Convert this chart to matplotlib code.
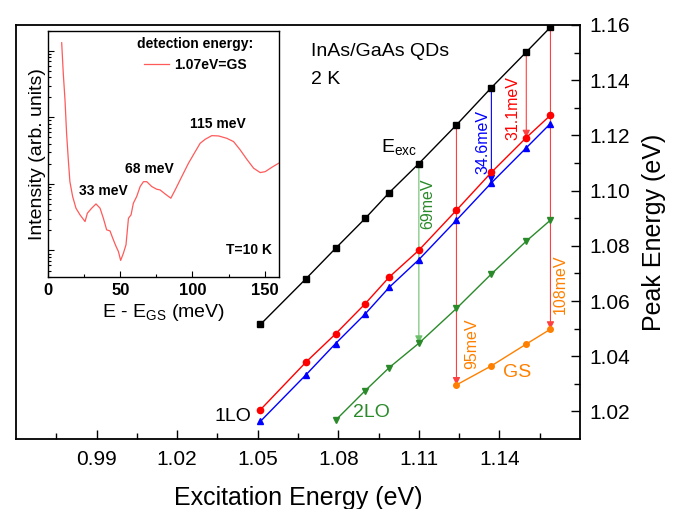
import numpy as np
import matplotlib
matplotlib.use('Agg')
import matplotlib.pyplot as plt
from matplotlib.ticker import MultipleLocator, FixedLocator, FormatStrFormatter, NullFormatter, LogLocator

plt.rcParams['font.family'] = ['Liberation Sans', 'DejaVu Sans']
plt.rcParams['mathtext.fontset'] = 'custom'
plt.rcParams['mathtext.rm'] = 'Liberation Sans'
plt.rcParams['mathtext.it'] = 'Liberation Sans:italic'

# excitation energies (eV) and peak positions (eV)
exc = [1.051, 1.068, 1.079, 1.090, 1.099, 1.110, 1.124, 1.137, 1.150, 1.159]
e_exc = [1.0515, 1.0681, 1.0791, 1.0899, 1.0993, 1.1098, 1.1238, 1.1373, 1.1502, 1.1592]
lo1_red = [1.0206, 1.0379, 1.0481, 1.0590, 1.0687, 1.0784, 1.0929, 1.1066, 1.1192, 1.1273]
lo1_blue = [1.0164, 1.0333, 1.0446, 1.0553, 1.0650, 1.0750, 1.0893, 1.1028, 1.1155, 1.1243]
lo2 = [1.0168, 1.0275, 1.0359, 1.0447, 1.0573, 1.0698, 1.0817, 1.0893]
gs = [1.0296, 1.0365, 1.0444, 1.0498]
exc_lo2 = exc[2:]
exc_gs = exc[6:]

# inset spectrum, detection at GS (1.07 eV)
ins_e = [9.3, 10.4, 11.6, 12.7, 13.9, 15.0, 16.9, 19.2, 22.0, 25.5, 27.1, 30.1, 33.1, 35.9,
         38.2, 40.5, 42.8, 44.7, 47.0, 48.6, 50.2, 52.1, 53.9, 55.6, 57.4, 59.0, 61.3, 63.7,
         66.0, 68.3, 71.8, 75.2, 77.5, 81.0, 85.0, 88.0, 92.6, 97.2, 101.9, 105.3, 108.8,
         113.4, 118.1, 123.8, 128.5, 133.1, 137.7, 142.4, 147.0, 150.5, 155.1, 159.7]
ins_i = [1318, 457, 182, 57.5, 22.9, 10.8, 6.46, 4.32, 3.43, 2.72, 3.63, 4.32, 5.01, 4.32,
         3.05, 2.04, 1.97, 1.53, 1.15, 0.97, 0.71, 0.91, 1.22, 3.05, 3.43, 5.13, 6.46, 9.12,
         10.8, 10.8, 9.12, 8.32, 8.13, 7.08, 6.10, 8.13, 12.9, 20.4, 30.5, 40.7, 46.8,
         53.1, 52.5, 48.4, 43.2, 32.4, 23.4, 17.2, 14.8, 15.3, 17.8, 20.4]

red = '#ff0000'
blue = '#0000ff'
green = '#2a8a2a'
orange = '#ff8000'

fig = plt.figure(figsize=(6.79, 5.09), dpi=100)
ax = fig.add_axes([0.0236, 0.1375, 0.8306, 0.8134])

def arrow(x, y0, y1, c):
    ax.annotate('', xy=(x, y1), xytext=(x, y0),
                arrowprops=dict(arrowstyle='-|>', color=c, lw=0.8, shrinkA=0, shrinkB=0,
                                mutation_scale=11), zorder=2)

arrow(exc[5], e_exc[5], lo2[3], '#6cc06c')
arrow(exc[6], e_exc[6], gs[0], '#ff4040')
arrow(exc[7], e_exc[7], lo1_blue[7], blue)
arrow(exc[8], e_exc[8], lo1_red[8], '#ff4040')
arrow(exc[9], e_exc[9], gs[3], '#ff4040')

ax.plot(exc, e_exc, '-s', color='black', lw=1.0, ms=4, zorder=3)
ax.plot(exc, lo1_red, '-o', color=red, lw=1.0, ms=4.5, zorder=3)
ax.plot(exc, lo1_blue, '-^', color=blue, lw=1.0, ms=4.5, zorder=3)
ax.plot(exc_lo2, lo2, '-v', color=green, lw=1.0, ms=4, zorder=3)
ax.plot(exc_gs, gs, '-o', color=orange, lw=1.0, ms=4, zorder=3)

ax.set_xlim(0.96, 1.17)
ax.set_ylim(1.010, 1.160)
ax.xaxis.set_major_locator(FixedLocator([0.99, 1.02, 1.05, 1.08, 1.11, 1.14]))
ax.xaxis.set_minor_locator(FixedLocator([0.975, 1.005, 1.035, 1.065, 1.095, 1.125, 1.155]))
ax.yaxis.set_major_locator(FixedLocator([1.02, 1.04, 1.06, 1.08, 1.10, 1.12, 1.14, 1.16]))
ax.yaxis.set_minor_locator(FixedLocator([1.03, 1.05, 1.07, 1.09, 1.11, 1.13, 1.15]))
ax.xaxis.set_major_formatter(FormatStrFormatter('%.2f'))
ax.yaxis.set_major_formatter(FormatStrFormatter('%.2f'))
ax.yaxis.tick_right()
ax.yaxis.set_label_position('right')
ax.tick_params(which='both', direction='in', labelsize=15, width=1.0)
ax.tick_params(which='major', length=6.5)
ax.tick_params(which='minor', length=4)
ax.tick_params(axis='x', pad=8)
ax.tick_params(axis='y', pad=7)
for s in ax.spines.values():
    s.set_linewidth(1.3)
ax.set_xlabel('Excitation Energy (eV)', fontsize=18, labelpad=12)
ax.set_ylabel('Peak Energy (eV)', fontsize=18, labelpad=8)

ax.text(1.0699, 1.1504, 'InAs/GaAs QDs', fontsize=14, ha='left', va='center')
ax.text(1.0699, 1.1403, '2 K', fontsize=14, ha='left', va='center')
ax.text(1.0958, 1.1139, r'E$_{\mathrm{exc}}$', fontsize=14, ha='left', va='baseline')
ax.text(1.0409, 1.0181, '1LO', fontsize=14, ha='center', va='center')
ax.text(1.0923, 1.0197, '2LO', fontsize=14, ha='center', va='center', color=green)
ax.text(1.1467, 1.0342, 'GS', fontsize=14, ha='center', va='center', color=orange)
ax.text(1.1296, 1.0445, '95meV', fontsize=11.5, ha='center', va='center', rotation=90, color=orange)
ax.text(1.1625, 1.0662, '108meV', fontsize=11.5, ha='center', va='center', rotation=90, color=orange)
ax.text(1.1133, 1.0951, '69meV', fontsize=11.5, ha='center', va='center', rotation=90, color=green)
ax.text(1.1338, 1.1177, '34.6meV', fontsize=11.5, ha='center', va='center', rotation=90, color=blue)
ax.text(1.1451, 1.1300, '31.1meV', fontsize=11.5, ha='center', va='center', rotation=90, color=red)

# inset
ins = fig.add_axes([0.0711, 0.4558, 0.3398, 0.4839])
ins.plot(ins_e, ins_i, color='#ff5a5a', lw=0.9, label='1.07eV=GS')
ins.set_yscale('log')
ins.set_xlim(0, 160)
ins.set_ylim(0.4, 2000)
ins.xaxis.set_major_locator(MultipleLocator(50))
ins.xaxis.set_minor_locator(MultipleLocator(25))
ins.yaxis.set_major_locator(LogLocator(base=10, numticks=10))
ins.yaxis.set_minor_locator(LogLocator(base=10, subs=np.arange(2, 10), numticks=10))
ins.yaxis.set_major_formatter(NullFormatter())
ins.yaxis.set_minor_formatter(NullFormatter())
ins.tick_params(which='both', direction='in', top=False, right=False, width=0.8)
ins.tick_params(which='major', length=4)
ins.tick_params(which='minor', length=2)
ins.tick_params(axis='x', labelsize=12, pad=4)
for lab in ins.get_xticklabels():
    lab.set_fontweight('bold')
for s in ins.spines.values():
    s.set_linewidth(1.0)
ins.set_xlabel(r'E - E$_{\mathrm{GS}}$ (meV)', fontsize=14, labelpad=3)
ins.set_ylabel('Intensity (arb. units)', fontsize=14, labelpad=-2)

leg = ins.legend(loc='upper right', bbox_to_anchor=(0.89, 0.975), frameon=False,
                 title='detection energy:', borderpad=0, borderaxespad=0,
                 handlelength=1.75, handletextpad=0.4,
                 prop={'weight': 'bold', 'size': 10},
                 title_fontproperties={'weight': 'bold', 'size': 10})

ins.text(0.733, 0.621, '115 meV', transform=ins.transAxes, fontsize=10, fontweight='bold', ha='center', va='center')
ins.text(0.439, 0.438, '68 meV', transform=ins.transAxes, fontsize=10, fontweight='bold', ha='center', va='center')
ins.text(0.237, 0.349, '33 meV', transform=ins.transAxes, fontsize=10, fontweight='bold', ha='center', va='center')
ins.text(0.872, 0.110, 'T=10 K', transform=ins.transAxes, fontsize=10, fontweight='bold', ha='center', va='center')

fig.savefig('out.png', dpi=100)
